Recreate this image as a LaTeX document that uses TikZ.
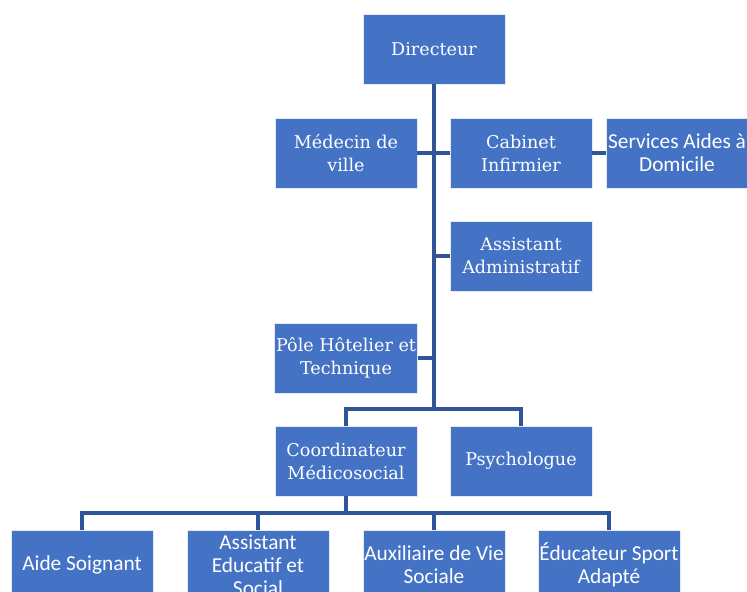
\documentclass[tikz,border=0pt]{standalone}
\usepackage{fontspec}
\newfontfamily\calibri{Carlito}
\newfontfamily\cambria{DejaVu Serif}
\definecolor{boxblue}{HTML}{4472C4}
\definecolor{lineblue}{HTML}{2F5597}

\begin{document}
\begin{tikzpicture}[x=0.75pt, y=-0.75pt,
  box/.style={fill=boxblue, draw=white!85!boxblue, line width=0.6pt, text=white,
    minimum width=106.5pt, minimum height=52.5pt, align=center, inner sep=1pt,
    font=\cambria\fontsize{13.2}{17.25}\selectfont},
  sansbox/.style={box, font=\calibri\fontsize{16}{17.25}\selectfont},
  link/.style={lineblue, line width=2.3pt},
  trunk/.style={lineblue, line width=3.2pt}]

\useasboundingbox (0,0) rectangle (747,592);
\clip (0,0) rectangle (747,592);

% Bus points
\coordinate (bus1) at (434,409);
\coordinate (bus2) at (346,513);

% Boxes
\node[box] (dir) at (434,49) {Directeur};
\node[box] (med) at (346,153) {Médecin de\\ville};
\node[box] (cab) at (521,153) {Cabinet\\Infirmier};
\node[sansbox, minimum width=105pt] (sad) at (677,153) {Services Aides à\\Domicile};
\node[box] (adm) at (521,256) {Assistant\\Administratif};
\node[box] (pole) at (346,358) {Pôle Hôtelier et\\Technique};
\node[box] (coord) at (346,461) {Coordinateur\\Médicosocial};
\node[box] (psy) at (521,461) {Psychologue};

% Bottom row
\node[sansbox] (aide) at (82,565) {Aide Soignant};
\node[sansbox] (aes) at (258,565) {Assistant\\Educatif et\\Social};
\node[sansbox] (avs) at (434,565) {Auxiliaire de Vie\\Sociale};
\node[sansbox] (edu) at (609,565) {Éducateur Sport\\Adapté};

% Trunk
\draw[trunk] (dir.south) -- (bus1);

% Branches
\draw[link] (med.east) -- (cab.west);
\draw[link] (cab.east) -- (sad.west);
\draw[link] (adm.west) -- (adm.west -| bus1);
\draw[link] (pole.east) -- (pole.east -| bus1);
\draw[link] (coord.north) |- (bus1) -| (psy.north);

% Lower bus
\draw[link] (coord.south) -- (bus2);
\draw[link] (aide.north) |- (bus2) -| (edu.north);
\draw[link] (aes.north) -- (aes.north |- bus2);
\draw[link] (avs.north) -- (avs.north |- bus2);

\end{tikzpicture}
\end{document}
